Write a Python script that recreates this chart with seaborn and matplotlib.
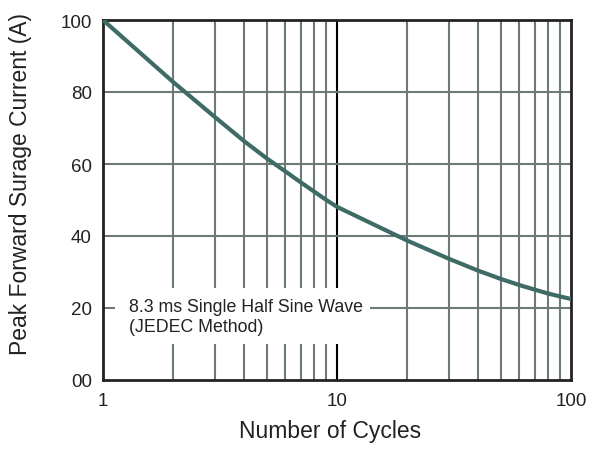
import matplotlib
matplotlib.use("Agg")
import matplotlib.pyplot as plt
import seaborn as sns
import pandas as pd
from matplotlib.ticker import FixedLocator, NullFormatter
from matplotlib.patches import Rectangle

cycles = [1, 2, 3, 4, 5, 6, 7, 8, 9, 10, 20, 30, 40, 50, 60, 70, 80, 90, 100]
current = [100, 82.7, 73.1, 66.4, 61.6, 58.0, 54.9, 52.3, 50.0, 48.1,
           38.7, 33.7, 30.4, 28.1, 26.4, 25.1, 24.0, 23.2, 22.5]
x_ticks = [1, 10, 100]
x_tick_labels = ["1", "10", "100"]
y_ticks = [0, 20, 40, 60, 80, 100]
y_tick_labels = ["00", "20", "40", "60", "80", "100"]

sns.set_style("white")
plt.rcParams['font.family'] = ['Liberation Sans', 'DejaVu Sans']

df = pd.DataFrame({"cycles": cycles, "current": current})

fig = plt.figure(figsize=(5.90, 4.52), dpi=100)
ax = fig.add_axes([103/590, 71/452, 468/590, 360/452])

grid_col = "#6e7a78"
minor = [2, 3, 4, 5, 6, 7, 8, 9, 20, 30, 40, 50, 60, 70, 80, 90]
ax.set_xscale("log")
ax.set_xlim(1, 100)
ax.set_ylim(0, 100)
for m in minor:
    ax.axvline(m, color=grid_col, lw=1.5, zorder=1)
ax.axvline(10, color="black", lw=1.5, zorder=1)
for yv in [20, 40, 60, 80]:
    ax.axhline(yv, color=grid_col, lw=1.5, zorder=1)

sns.lineplot(data=df, x="cycles", y="current", ax=ax, color="#3f6b67",
             lw=3, zorder=3)

ax.xaxis.set_major_locator(FixedLocator(x_ticks))
ax.xaxis.set_minor_locator(FixedLocator(minor))
ax.xaxis.set_minor_formatter(NullFormatter())
ax.set_xticks(x_ticks)
ax.set_xticklabels(x_tick_labels)
ax.set_yticks(y_ticks)
ax.set_yticklabels(y_tick_labels)
ax.tick_params(axis="both", which="both", length=0, labelsize=13.5, colors="#222222", pad=8)
ax.tick_params(axis="x", pad=9)

for s in ax.spines.values():
    s.set_visible(True)
    s.set_color("#222222")
    s.set_linewidth(2)

ax.set_xlabel("Number of Cycles", fontsize=16.5, color="#222222")
ax.xaxis.label.set_va("center")
ax.xaxis.set_label_coords((330 - 103) / 468, (381 - 432) / 360)
ax.set_ylabel("Peak Forward Surage Current (A)", fontsize=16.5, color="#222222")
ax.yaxis.label.set_va("center")
ax.yaxis.set_label_coords((21 - 103) / 468, (381 - 184) / 360)

ax.add_patch(Rectangle((12 / 468, 36 / 360), 255 / 468, 56 / 360,
                       transform=ax.transAxes, facecolor="white",
                       edgecolor="none", zorder=2))
ax.text(1.29, 17.6, "8.3 ms Single Half Sine Wave\n(JEDEC Method)",
        fontsize=12.8, color="#222222", va="center", ha="left", zorder=4,
        linespacing=1.18)

fig.savefig("out.png", dpi=100)
